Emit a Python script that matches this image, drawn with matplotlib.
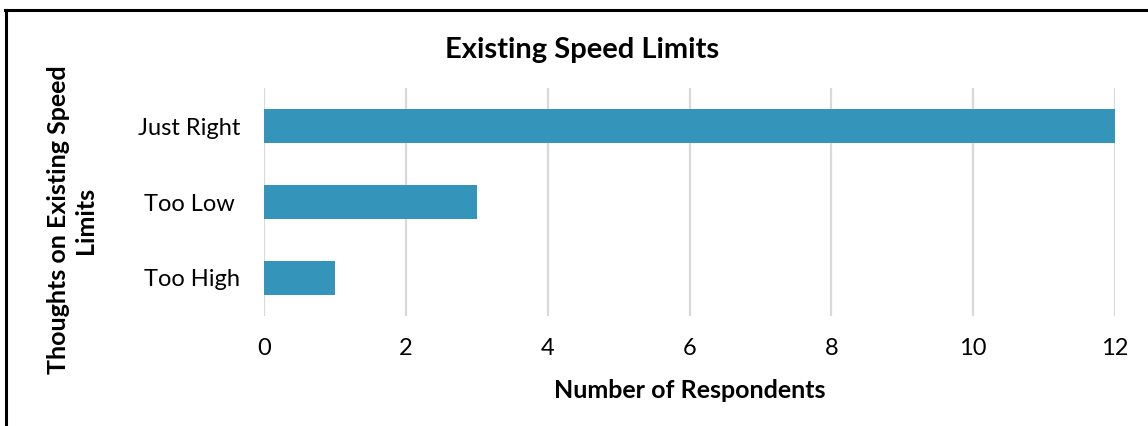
import matplotlib
matplotlib.use("Agg")
import matplotlib.pyplot as plt
from matplotlib.lines import Line2D

categories = ["Too High", "Too Low ", "Just Right"]
respondents = [1, 3, 12]
x_ticks = [0, 2, 4, 6, 8, 10, 12]

plt.rcParams["font.family"] = ["Lato", "DejaVu Sans"]

fig = plt.figure(figsize=(11.48, 4.26), dpi=100)
ax = fig.add_axes([264 / 1148, 1 - 316 / 426, (1115 - 264) / 1148, (316 - 88) / 426])

bar_color = "#3594BA"
ax.barh(range(len(categories)), respondents, height=0.44, color=bar_color, zorder=3)

ax.set_xlim(0, 12)
ax.set_ylim(-0.5, len(categories) - 0.5)
ax.set_xticks(x_ticks)
ax.set_yticks(range(len(categories)))
ax.set_yticklabels(categories)
ax.tick_params(axis="both", length=0, labelsize=17, colors="#000000")
ax.tick_params(axis="x", pad=16)
ax.tick_params(axis="y", pad=17)

ax.grid(axis="x", color="#D9D9D9", linewidth=1.6, zorder=0)
ax.grid(axis="y", visible=False)
for side in ["top", "right", "bottom", "left"]:
    ax.spines[side].set_visible(False)

fig.text(582 / 1148, 1 - 50 / 426, "Existing Speed Limits", ha="center", va="center",
         fontsize=21, fontweight="bold")
fig.text(690 / 1148, 1 - 390 / 426, "Number of Respondents", ha="center", va="center",
         fontsize=18, fontweight="bold")
fig.text(72 / 1148, 1 - 220 / 426, "Thoughts on Existing Speed\nLimits", ha="center",
         va="center", rotation=90, fontsize=18, fontweight="bold", linespacing=1.25)

# frame lines along the left and top edges
fig.add_artist(Line2D([6 / 1148, 6 / 1148], [0, 1 - 10 / 426], transform=fig.transFigure,
                      color="black", linewidth=2.2))
fig.add_artist(Line2D([5 / 1148, 1], [1 - 10 / 426, 1 - 10 / 426], transform=fig.transFigure,
                      color="black", linewidth=2.2))

fig.savefig("out.png", dpi=100, facecolor="white")
